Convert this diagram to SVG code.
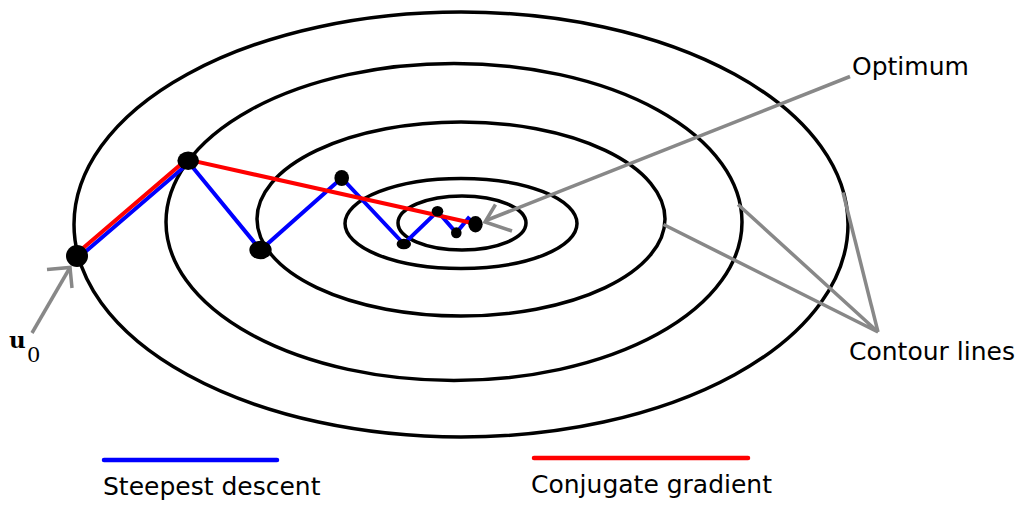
<svg xmlns="http://www.w3.org/2000/svg" width="1024" height="509" viewBox="0 0 1024 509">
<style>
.contour{fill:none;stroke:#000;stroke-width:3.5}
.sd{fill:none;stroke:#0000ff;stroke-width:4;stroke-linejoin:miter}
.cg{fill:none;stroke:#ff0000;stroke-width:4}
.ptr{fill:none;stroke:#888;stroke-width:3.5}
.dot{fill:#000}
.lbl{font-family:"DejaVu Sans","Noto Sans",sans-serif;font-size:25px;fill:#000}
.legend{stroke-width:4.5;stroke-linecap:round}
</style>
<rect width="1024" height="509" fill="#fff"/>
<g id="contours">
<ellipse class="contour" cx="461" cy="224.5" rx="387" ry="212.5"/>
<ellipse class="contour" cx="454" cy="222" rx="288" ry="158.5"/>
<ellipse class="contour" cx="461" cy="219" rx="204" ry="97"/>
<ellipse class="contour" cx="461" cy="223.5" rx="116" ry="45"/>
<ellipse class="contour" cx="462" cy="223" rx="64" ry="27"/>
</g>
<g id="connectors">
<polyline id="steepest-path" class="sd" points="78.5,257.6 189,162.8 260.5,250 341.7,178 403.8,244 437.5,211.3 456.3,232.8 468.3,218.3 475.5,224.2"/>
<polyline id="cg-path" class="cg" points="75.6,254.4 186.6,159.4 472,223"/>
<line class="ptr" x1="32" y1="333" x2="70" y2="267.5"/>
<polyline class="ptr" points="47,269.5 70,267.5 72,288"/>
<line class="ptr" x1="850" y1="76.5" x2="486" y2="220.5"/>
<polyline class="ptr" points="495.5,204.5 485,222 512,231"/>
<polyline class="ptr" points="663.5,224.5 878,332 738,204.5"/>
<line class="ptr" x1="878" y1="332" x2="843" y2="192.5"/>
</g>
<g id="points">
<ellipse class="dot" cx="77" cy="256" rx="11" ry="11"/>
<ellipse class="dot" cx="188.2" cy="160.8" rx="10.8" ry="9.2"/>
<ellipse class="dot" cx="260.5" cy="250" rx="11.2" ry="9.3"/>
<ellipse class="dot" cx="341.7" cy="178" rx="7.3" ry="8"/>
<ellipse class="dot" cx="403.8" cy="244" rx="7.2" ry="5.3"/>
<ellipse class="dot" cx="437.5" cy="211.3" rx="5.8" ry="5.3"/>
<ellipse class="dot" cx="456.3" cy="232.8" rx="5.3" ry="5.5"/>
<ellipse class="dot" cx="475.5" cy="224.2" rx="7.2" ry="8.2"/>
</g>
<g id="label-u0">
<text x="9" y="347.5" font-family="DejaVu Serif, Liberation Serif, serif" font-weight="bold" font-size="23">u</text>
<text x="27" y="362" font-family="DejaVu Serif, Liberation Serif, serif" font-size="21">0</text>
</g>
<g id="label-optimum"><text class="lbl" x="852" y="75">Optimum</text></g>
<g id="label-contour"><text class="lbl" x="849" y="360">Contour lines</text></g>
<g id="legend-sd">
<line class="sd legend" x1="104" y1="460" x2="277" y2="460"/>
<text class="lbl" x="103" y="494.5">Steepest descent</text>
</g>
<g id="legend-cg">
<line class="cg legend" x1="534" y1="458" x2="748" y2="458"/>
<text class="lbl" x="531" y="493">Conjugate gradient</text>
</g>
</svg>
